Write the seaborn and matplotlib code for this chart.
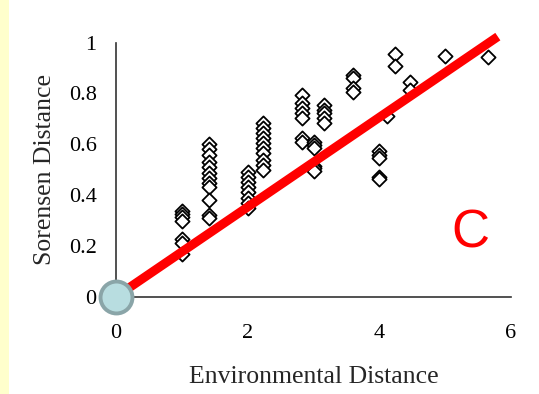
import matplotlib
matplotlib.use("Agg")
import matplotlib.pyplot as plt
import seaborn as sns
import pandas as pd

# ---- data ----
env_levels = [1.0, 1.414, 2.0, 2.236, 2.828, 3.0, 3.162, 3.606, 4.0, 4.123, 4.243, 4.472, 5.0, 5.657]
sorensen_by_level = [
    [0.339, 0.326, 0.313, 0.300, 0.226, 0.210, 0.168],
    [0.601, 0.580, 0.558, 0.531, 0.509, 0.486, 0.466, 0.446, 0.431, 0.381, 0.322, 0.310],
    [0.492, 0.472, 0.453, 0.433, 0.413, 0.387, 0.368, 0.348],
    [0.683, 0.663, 0.643, 0.624, 0.604, 0.584, 0.565, 0.538, 0.519, 0.499],
    [0.794, 0.761, 0.742, 0.722, 0.702, 0.624, 0.610],
    [0.610, 0.597, 0.585, 0.515, 0.505, 0.495],
    [0.755, 0.735, 0.722, 0.702, 0.683],
    [0.873, 0.860, 0.820, 0.807],
    [0.575, 0.558, 0.545, 0.470, 0.462],
    [0.710],
    [0.955, 0.910],
    [0.846, 0.814],
    [0.948],
    [0.943],
]
fit_x = [0.0, 5.8]
fit_y = [0.0, 1.024]
origin_x = [0.0]
origin_y = [0.0]
x_ticks = [0, 2, 4, 6]
y_ticks = [0, 0.2, 0.4, 0.6, 0.8, 1]
y_ticklabels = ["0", "0.2", "0.4", "0.6", "0.8", "1"]
x_label = "Environmental Distance"
y_label = "Sorensen Distance"
panel_label = "C"

rows = []
for xv, ys in zip(env_levels, sorensen_by_level):
    for yv in ys:
        rows.append({"env": xv, "sor": yv})
df = pd.DataFrame(rows)

sns.set_theme(style="white")
plt.rcParams["font.family"] = ["Liberation Serif", "DejaVu Serif"]

fig = plt.figure(figsize=(5.39, 3.94), dpi=100)
fig.patch.set_facecolor("white")
# pale yellow strip at left edge
fig.patches.append(plt.Rectangle((0, 0), 9 / 539, 1, transform=fig.transFigure,
                                 facecolor="#FFFFCC", edgecolor="none", zorder=0))

ax = fig.add_axes([116 / 539, 1 - 296.7 / 394, (511 - 116) / 539, (296.7 - 42.7) / 394])
ax.set_facecolor("none")

sns.scatterplot(data=df, x="env", y="sor", marker="D", s=52, facecolor="white",
                edgecolor="black", linewidth=1.3, ax=ax, zorder=3, legend=False)

ax.plot(fit_x, fit_y, color="#FF0000", lw=6.5, solid_capstyle="butt", zorder=4, clip_on=False)
ax.plot(origin_x, origin_y, marker="o", ms=23, mfc="#B8DDE0", mec="#8AA5A8", mew=2.8,
        clip_on=False, zorder=10, linestyle="none")

ax.set_xlim(0, 6)
ax.set_ylim(0, 1)
ax.set_xticks(x_ticks)
ax.set_yticks(y_ticks)
ax.set_yticklabels(y_ticklabels)
ax.set_xlabel(x_label, fontsize=18.5, labelpad=16)
ax.set_ylabel(y_label, fontsize=18.5, labelpad=9)

for s in ["top", "right"]:
    ax.spines[s].set_visible(False)
for s in ["left", "bottom"]:
    ax.spines[s].set_color("#333333")
    ax.spines[s].set_linewidth(1.2)

ax.tick_params(axis="both", direction="in", length=3.5, width=1.2, color="#333333",
               labelsize=16, labelcolor="black")
ax.tick_params(axis="x", pad=20)
ax.tick_params(axis="y", pad=14)

ax.text(470, 394 - 234, panel_label, transform=None, color="#FF0000",
        fontsize=38, family="Liberation Sans", ha="center", va="center")

fig.savefig("out.png", dpi=100)
